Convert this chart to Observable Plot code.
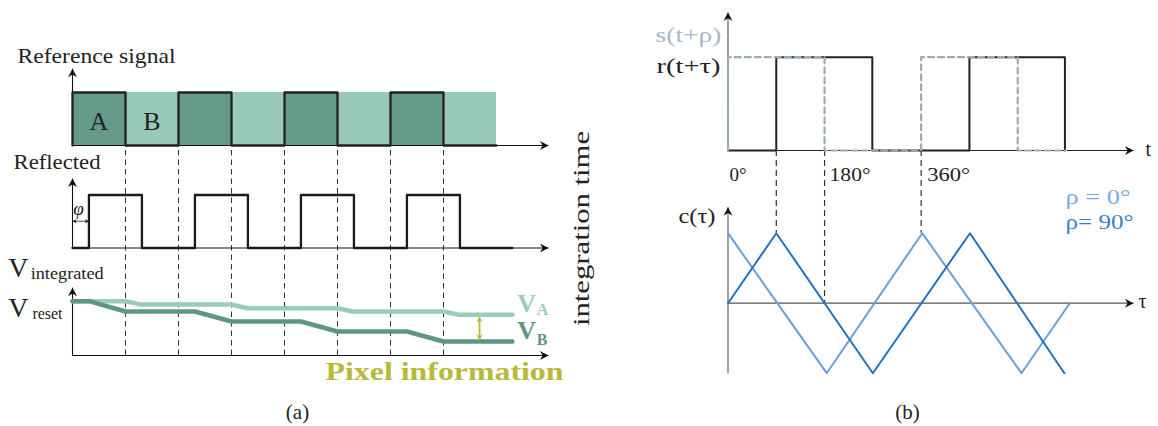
<!DOCTYPE html>
<html><head><meta charset="utf-8">
<script src="https://cdn.jsdelivr.net/npm/d3@7"></script>
<script src="https://cdn.jsdelivr.net/npm/@observablehq/plot@0.6"></script>
<style>
html,body{margin:0;padding:0;background:#fff;}
#wrap{display:flex;width:1158px;height:426px;overflow:hidden;}
#wrap svg{display:block;}
</style></head><body><div id="wrap"></div>
<script>
// ================= Panel (a) data =================
const refBlocks = ["A","B","A","B","A","B","A","B"];        // half-period windows
const refLevels = [1,0,1,0,1,0,1,0];                        // reference square wave
const refBlockLabels = ["A","B"];
const reflectedEdges = [0.31,1.31,2.31,3.31,4.31,5.31,6.31,7.31]; // rise/fall times (half periods)
const reflectedEnd = 8.3;
const phaseShift = 0.31;
const windowBoundaries = [1,2,3,4,5,6,7];
const vATimes  = [0,1,1.28,3,3.3,5,5.28,7,7.29,8.3];
const vAValues = [1.025,1.025,0.962,0.962,0.892,0.892,0.830,0.830,0.768,0.768];
const vBTimes  = [0,0.31,1,2.31,3,4.31,5,6.31,7,8.3];
const vBValues = [1.025,1.025,0.830,0.830,0.642,0.642,0.453,0.453,0.264,0.264];
const pixelInfoTime = 7.68;
const pixelInfoRange = [0.74, 0.285];

// ================= Panel (b) data =================
const sEdges = [0,180,360,540];      // s(t+rho) toggles (starts low, rises at 0)
const sEnd = 630;
const rEdges = [90,269,450,628];     // r(t+tau) toggles
const degreeTicks = [0,180,360];
const degreeLabels = ["0°","180°","360°"];
const rho0Deg = [0,184,362,547,637];
const rho0C   = [1,-1,1,-1,0];
const rho90Deg = [0,90,270,451,627];
const rho90C   = [0,1,-1,1,-1];
const connectorDeg = [90,180,360];
const connectorC   = [1,0,1];
const legendLabels = ["ρ = 0°","ρ= 90°"];

// ================= styles =================
const SERIF = "Liberation Serif";
const DARK = "#65998a", LIGHT = "#98c9ba";
const VA_COL = "#98cdbb", VB_COL = "#5e9686", OLIVE = "#b8b939";
const BLUE_L = "#6a9fd6", BLUE_D = "#2672b6";
const S_COL = "#9aabb9";

const arrowSym = {draw(ctx, size) {
  const r = Math.sqrt(size / Math.PI);
  ctx.moveTo(0, 0); ctx.lineTo(-1.9*r, -r); ctx.lineTo(-1.3*r, 0); ctx.lineTo(-1.9*r, r); ctx.closePath();
}};
const heads = (pts, r, fill) => Plot.dot(pts, {x:"x", y:"y", rotate:"rot", r, symbol: arrowSym, fill, stroke:"none"});
const seg = (pts, opts) => Plot.link(pts, {x1:"x1", y1:"y1", x2:"x2", y2:"y2", ...opts});
const label = (str, x, y, opts) => Plot.text([{str, x, y}], {x:"x", y:"y", text:"str", lineAnchor:"bottom", fontFamily: SERIF, fill:"#222", ...opts});

function toggles(edges, end, start=0) {
  const pts = [{x:0, v:start}]; let cur = start;
  for (const e of edges) { pts.push({x:e, v:cur}); cur = 1 - cur; pts.push({x:e, v:cur}); }
  if (end > edges[edges.length-1]) pts.push({x:end, v:cur});
  return pts;
}

// ================= Panel (a) =================
const PX = 53;                       // px per half period
const REF = 281/PX, REFL = 178.5/PX, INT = 71/PX;   // row baselines
const TIP_T = 476/PX;

const refPts = [{x:0, v:0}];
refLevels.forEach((L,i) => { refPts.push({x:i, v:L}); refPts.push({x:i+1, v:L}); });
const reflPts = toggles(reflectedEdges, reflectedEnd);

const plotA = Plot.plot({
  width: 620, height: 426, margin: 0,
  x: {domain: [-72/PX, (620-72)/PX], axis: null}, y: {domain: [0, 426/PX], axis: null},
  color: {type: "identity"},
  style: {background: "white", overflow: "visible", fontFamily: SERIF},
  marks: [
    Plot.rect(refBlocks.map((k,i)=>({k, x1:i, x2:i+1, y1:REF, y2:REF+refLevels[0]})),
      {x1:"x1", x2:"x2", y1:"y1", y2:"y2", fill: d => d.k === "A" ? DARK : LIGHT}),
    Plot.ruleX(windowBoundaries, {x: d=>d, y1: INT, y2: REF, stroke:"#333", strokeWidth:1, strokeDasharray:"5.5,4"}),
    // axes
    seg([{x1:0,y1:REF,x2:TIP_T,y2:REF},{x1:0,y1:REF,x2:0,y2:REF+1.45},
         {x1:0,y1:REFL,x2:TIP_T,y2:REFL},{x1:0,y1:REFL,x2:0,y2:REFL+1.31},
         {x1:0,y1:INT,x2:TIP_T,y2:INT},{x1:0,y1:INT,x2:0,y2:INT+1.28}], {stroke:"#111", strokeWidth:1.1}),
    heads([{x:TIP_T,y:REF,rot:0},{x:0,y:REF+1.45,rot:-90},{x:TIP_T,y:REFL,rot:0},{x:0,y:REFL+1.31,rot:-90},
           {x:TIP_T,y:INT,rot:0},{x:0,y:INT+1.28,rot:-90}], 4.5, "#111"),
    // signals
    Plot.line(refPts, {x:"x", y: d => REF + d.v, stroke:"#222", strokeWidth:2.3}),
    Plot.line(reflPts, {x:"x", y: d => REFL + d.v, stroke:"#1a1a1a", strokeWidth:2.3}),
    Plot.line(vATimes.map((t,i)=>({t, v:vAValues[i]})), {x:"t", y: d => INT + d.v, stroke: VA_COL, strokeWidth:4.5}),
    Plot.line(vBTimes.map((t,i)=>({t, v:vBValues[i]})), {x:"t", y: d => INT + d.v, stroke: VB_COL, strokeWidth:4.5}),
    // phase arrow
    seg([{x1:0.03, y1:REFL+0.505, x2:phaseShift-0.03, y2:REFL+0.505}], {stroke:"#222", strokeWidth:0.8}),
    heads([{x:0, y:REFL+0.505, rot:180},{x:phaseShift, y:REFL+0.505, rot:0}], 2.2, "#222"),
    // pixel information arrow
    seg([{x1:pixelInfoTime, y1:INT+pixelInfoRange[0]-0.05, x2:pixelInfoTime, y2:INT+pixelInfoRange[1]+0.05}], {stroke:OLIVE, strokeWidth:1.8}),
    heads([{x:pixelInfoTime, y:INT+pixelInfoRange[0], rot:-90},{x:pixelInfoTime, y:INT+pixelInfoRange[1], rot:90}], 3.2, OLIVE),
    // labels
    label("Reference signal", -1.038, REF+1.566, {fontSize:22, textAnchor:"start"}),
    Plot.text(refBlockLabels.map((s,i)=>({s, x:i+0.5})), {x:"x", y: REF+0.296, text:"s", lineAnchor:"bottom", fontFamily:SERIF, fontSize:26, fill:"#222"}),
    label("Reflected", -1.113, REFL+1.5, {fontSize:22, textAnchor:"start"}),
    label("φ", 0.115, REFL+0.63, {fontSize:19, fontStyle:"italic", textAnchor:"middle"}),
    label("V", -1.21, INT+1.49, {fontSize:28, textAnchor:"start"}),
    label("integrated", -0.79, INT+1.452, {fontSize:17.5, textAnchor:"start"}),
    label("V", -1.21, INT+0.724, {fontSize:28, textAnchor:"start"}),
    label("reset", -0.755, INT+0.693, {fontSize:17.5, textAnchor:"start"}),
    label("V", 8.39, INT+0.83, {fontSize:26, fontWeight:"bold", fill:VA_COL, textAnchor:"start"}),
    label("A", 8.76, INT+0.755, {fontSize:16, fontWeight:"bold", fill:VA_COL, textAnchor:"start"}),
    label("V", 8.39, INT+0.32, {fontSize:26, fontWeight:"bold", fill:VB_COL, textAnchor:"start"}),
    label("B", 8.76, INT+0.2, {fontSize:16, fontWeight:"bold", fill:VB_COL, textAnchor:"start"}),
    label("Pixel information", 4.774, INT-0.453, {fontSize:26, fontWeight:"bold", fill:OLIVE, textAnchor:"start"}),
    label("integration time", 516/PX, 198/PX, {fontSize:24, rotate:-90, textAnchor:"middle"}),
    label("(a)", 4.245, 8/PX, {fontSize:21, textAnchor:"middle"})
  ]
});

// ================= Panel (b) =================
const PXD = 0.5365, X0 = 107.5;          // px per degree, local px of 0°
const CU = 70, C0 = 302.7;               // px per unit of c, page y of c = 0
const TOP = (C0-150)/CU, TOP_AMP = 93.3/CU;
const TIP_D = (1133-620-X0)/PXD;
const sPts = toggles(sEdges, sEnd);
const rPts = toggles(rEdges, rEdges[rEdges.length-1]);

const plotB = Plot.plot({
  width: 538, height: 426, margin: 0,
  x: {domain: [-X0/PXD, (538-X0)/PXD], axis: null}, y: {domain: [-(426-C0)/CU, C0/CU], axis: null},
  style: {background: "white", overflow: "visible", fontFamily: SERIF},
  marks: [
    // axes
    seg([{x1:0,y1:TOP,x2:0,y2:(C0-12)/CU}], {stroke:"#666", strokeWidth:1.3}),
    seg([{x1:0,y1:TOP,x2:TIP_D,y2:TOP}], {stroke:"#222", strokeWidth:1.1}),
    seg([{x1:0,y1:-1,x2:0,y2:(C0-206.7)/CU}], {stroke:"#707070", strokeWidth:1.3}),
    seg([{x1:0,y1:0,x2:TIP_D,y2:0}], {stroke:"#555", strokeWidth:1.2}),
    heads([{x:0,y:(C0-12)/CU,rot:-90},{x:TIP_D,y:TOP,rot:0},{x:0,y:(C0-206.7)/CU,rot:-90},{x:TIP_D,y:0,rot:0}], 4.5, "#111"),
    // connectors
    Plot.ruleX(connectorDeg.map((d,i)=>({d, c:connectorC[i]})), {x:"d", y1: TOP, y2: d=>d.c, stroke:"#333", strokeWidth:1.2, strokeDasharray:"6,4"}),
    // signals
    Plot.line(rPts, {x:"x", y: d => TOP + d.v*TOP_AMP, stroke:"#222", strokeWidth:2}),
    Plot.line(sPts, {x:"x", y: d => TOP + d.v*TOP_AMP, stroke:S_COL, strokeWidth:2.2, strokeDasharray:"6,4"}),
    Plot.line(rho0Deg.map((d,i)=>({d, c:rho0C[i]})), {x:"d", y:"c", stroke:BLUE_L, strokeWidth:2}),
    Plot.line(rho90Deg.map((d,i)=>({d, c:rho90C[i]})), {x:"d", y:"c", stroke:BLUE_D, strokeWidth:2}),
    // labels
    label("s(t+ρ)", 0, (C0-41)/CU, {fontSize:20, textAnchor:"end", dx:-6.5, fill:"#a9b8c5"}),
    label("r(t+τ)", 0, (C0-72)/CU, {fontSize:20, textAnchor:"end", dx:-7.5}),
    label("c(τ)", 0, (C0-222)/CU, {fontSize:20, textAnchor:"end", dx:-12.5}),
    Plot.text(degreeTicks.map((d,i)=>({d, s:degreeLabels[i], dx:[1.5,5,6][i]})), {x: d => d.d + d.dx/PXD, y:(C0-180)/CU, text:"s", lineAnchor:"bottom", textAnchor:"start", fontFamily:SERIF, fontSize:19, fill:"#222"}),
    label("t", (1145-620-X0)/PXD, (C0-155)/CU, {fontSize:20, textAnchor:"start"}),
    label("τ", (1138-620-X0)/PXD, (C0-307)/CU, {fontSize:20, textAnchor:"start"}),
    label(legendLabels[0], (1065-620-X0)/PXD, (C0-203)/CU, {fontSize:20, textAnchor:"start", fill:"#79aadf"}),
    label(legendLabels[1], (1065-620-X0)/PXD, (C0-228)/CU, {fontSize:20, textAnchor:"start", fill:"#3b82c4"}),
    label("(b)", (907-620-X0)/PXD, (C0-418)/CU, {fontSize:21, textAnchor:"middle"})
  ]
});

const wrap = document.getElementById("wrap");
wrap.append(plotA, plotB);

// match Computer-Modern-like text widths
const widths = {"Reference signal":158, "Reflected":87, "integrated":73, "reset":30, "Pixel information":238,
  "integration time":195, "s(t+ρ)":66, "r(t+τ)":64, "c(τ)":37, "180°":41, "360°":43,
  "ρ = 0°":65, "ρ= 90°":68};
wrap.querySelectorAll("text").forEach(t => {
  const w = widths[t.textContent];
  if (w) { t.setAttribute("textLength", w); t.setAttribute("lengthAdjust", "spacingAndGlyphs"); }
});
</script></body></html>
